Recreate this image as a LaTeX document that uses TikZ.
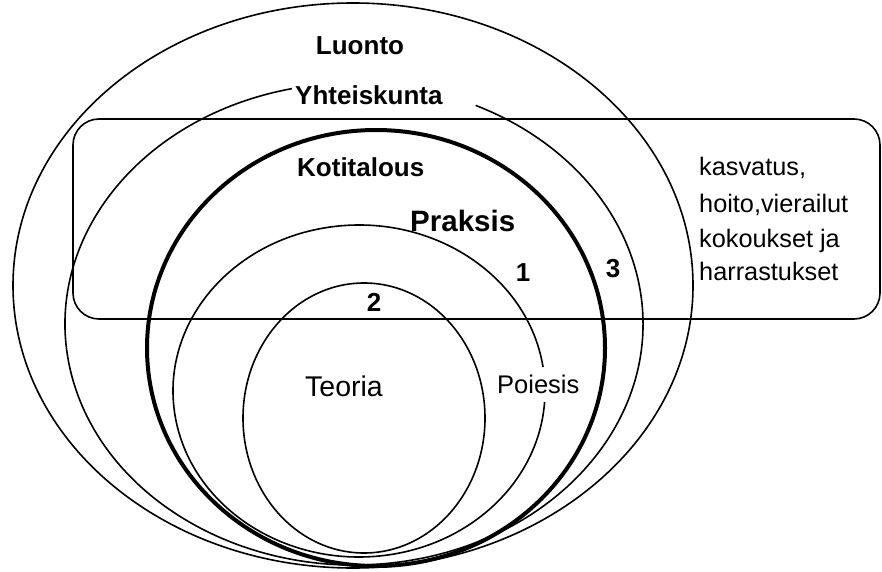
\documentclass[tikz,border=0pt]{standalone}
\usepackage{fontspec}
\setmainfont{Liberation Sans}
\begin{document}
\begin{tikzpicture}[x=1pt,y=1pt,
  thinline/.style={line width=1.6pt},
  thickline/.style={line width=4pt},
  boldlbl/.style={font=\fontsize{26}{30}\selectfont\bfseries, inner sep=0pt},
  numlbl/.style={font=\fontsize{26}{30}\selectfont\bfseries, inner sep=0pt, anchor=base},
  plainlbl/.style={font=\fontsize{25.5}{30}\selectfont, inner sep=0pt, anchor=base west},
  sidelbl/.style={font=\fontsize{25.3}{30}\selectfont, inner sep=0pt, anchor=base west}]
\useasboundingbox (0,0) rectangle (882,571);
% rounded box
\draw[thinline, rounded corners=26pt] (73,452) rectangle (880,252);
% Luonto
\draw[thinline] (353,285.5) ellipse [x radius=340, y radius=282.5];
% Yhteiskunta (gap at top for label)
\draw[thinline] ([shift={(102.4:289 and 241)}]354,247) arc[start angle=102.4, end angle=425.1, x radius=289, y radius=241];
% Kotitalous
\draw[thickline] (376,223) ellipse [x radius=229, y radius=218];
% Praksis (gap for Poiesis)
\draw[thinline] ([shift={(8.3:186 and 166)}]359,180) arc[start angle=8.3, end angle=356.2, x radius=186, y radius=166];
% Teoria
\draw[thinline] (364,153) ellipse [x radius=121, y radius=135];
% labels
\node[boldlbl, anchor=base] (luonto) at (360,516) {Luonto};
\node[boldlbl, anchor=base west] (yht) at (295,466) {Yhteiskunta};
\node[boldlbl, anchor=base west] (koti) at (297,394) {Kotitalous};
\node[font=\fontsize{29.5}{32}\selectfont\bfseries, inner sep=0pt, anchor=base west] (praksis) at (410,340) {Praksis};
\node[numlbl] (n1) at (523,290) {1};
\node[numlbl] (n3) at (613,294) {3};
\node[numlbl] (n2) at (374,260) {2};
\node[font=\fontsize{28.5}{30}\selectfont, inner sep=0pt, anchor=base west] (teoria) at (305,175) {Teoria};
\node[plainlbl] (poiesis) at (497,178) {Poiesis};
\node[sidelbl] (s1) at (699,395) {kasvatus,};
\node[sidelbl] (s2) at (699,359) {hoito,vierailut};
\node[sidelbl] (s3) at (699,324) {kokoukset ja};
\node[sidelbl] (s4) at (699,291) {harrastukset};
\end{tikzpicture}
\end{document}
